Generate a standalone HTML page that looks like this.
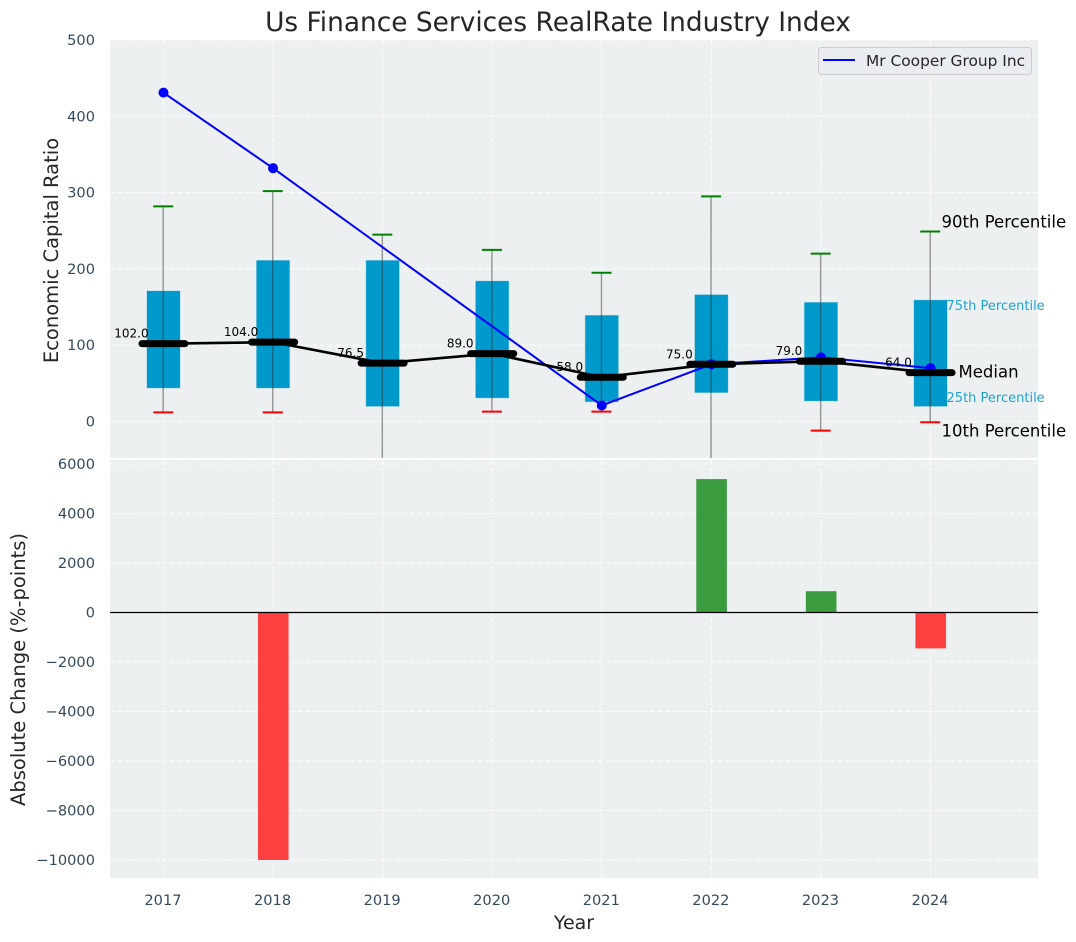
<!DOCTYPE html>
<html>
<head>
<meta charset="utf-8">
<title>Us Finance Services RealRate Industry Index</title>
<style>
html,body{margin:0;padding:0;background:#fff;}
svg{display:block;font-family:"DejaVu Sans","Liberation Sans",sans-serif;}
</style>
</head>
<body>
<svg id="chart" width="1076" height="942" viewBox="0 0 1076 942" xmlns="http://www.w3.org/2000/svg">
  <defs>
    <clipPath id="clip-top"><rect x="110" y="40" width="928" height="418"></rect></clipPath>
    <clipPath id="clip-bottom"><rect x="110" y="460" width="928" height="418"></rect></clipPath>
  </defs>
  <text x="558" y="31" text-anchor="middle" font-size="26.4" fill="#262626">Us Finance Services RealRate Industry Index</text>
  <rect x="110" y="40" width="928" height="418" fill="#ecf0f1"></rect>
  <rect x="110" y="460" width="928" height="418" fill="#ecf0f1"></rect>
  <text transform="translate(58,250.5) rotate(-90)" text-anchor="middle" font-size="19.5" fill="#262626">Economic Capital Ratio</text>
  <text transform="translate(25,669.5) rotate(-90)" text-anchor="middle" font-size="19.5" fill="#262626">Absolute Change (%-points)</text>
  <text x="574" y="929" text-anchor="middle" font-size="19" fill="#262626">Year</text>
  <g id="grid"></g>
  <g id="tick-labels"></g>
  <g id="top-marks" clip-path="url(#clip-top)"></g>
  <g id="bottom-marks" clip-path="url(#clip-bottom)"></g>
  <g id="annotations"></g>
  <g>
    <rect x="818.5" y="47.5" width="213" height="27" rx="3" fill="#e9ebf0" fill-opacity="0.9" stroke="#cccccc"></rect>
    <line x1="823" y1="60" x2="855" y2="60" stroke="#0000ff" stroke-width="2"></line>
    <text x="866" y="66" font-size="15.4" fill="#262626">Mr Cooper Group Inc</text>
  </g>
</svg>
<script>
const years = [2017, 2018, 2019, 2020, 2021, 2022, 2023, 2024];
const p90 = [282, 302, 245, 225, 195, 295, 220, 249];
const p75 = [171, 211, 211, 184, 139, 166, 156, 159];
const medians = [102, 104, 76.5, 89, 58, 75, 79, 64];
const p25 = [44, 44, 20, 31, 26, 38, 27, 20];
const p10 = [12, 12, -60, 13, 13, -60, -12, -1];
const companyYears = [2017, 2018, 2021, 2022, 2023, 2024];
const companyValues = [431, 332, 21, 75, 84, 70];
const changeYears = [2018, 2022, 2023, 2024];
const changeValues = [-10000, 5390, 860, -1450];
const topTicks = [0, 100, 200, 300, 400, 500];
const bottomTicks = [-10000, -8000, -6000, -4000, -2000, 0, 2000, 4000, 6000];

const NS = 'http://www.w3.org/2000/svg';
const x = v => 110 + (v - 2016.512) * 109.58;
const yTop = v => 421.5 - v * 0.7630;
const yBottom = v => 612.5 - v * 0.02475;

function make(parent, tag, props, text) {
  const el = document.createElementNS(NS, tag);
  Object.keys(props).forEach(k => el.setAttribute(k, props[k]));
  if (text !== undefined) el.textContent = text;
  parent.appendChild(el);
  return el;
}

const gridG = document.getElementById('grid');
const labelG = document.getElementById('tick-labels');
const topG = document.getElementById('top-marks');
const botG = document.getElementById('bottom-marks');
const annG = document.getElementById('annotations');
const gridStyle = {stroke: '#ffffff', 'stroke-width': 1, 'stroke-dasharray': '5 2.5', 'stroke-opacity': 0.85};

years.forEach(yr => {
  [[40, 458], [460, 878]].forEach(range => {
    const g = make(gridG, 'line', Object.assign({x1: x(yr), x2: x(yr), y1: range[0], y2: range[1]}, gridStyle));
    
    
  });
  const t = make(labelG, 'text', {x: x(yr) - 0.5, y: 905, 'text-anchor': 'middle', 'font-size': 14.6, fill: '#34495e'}, String(yr));
  
  
});

topTicks.forEach(v => {
  const g = make(gridG, 'line', Object.assign({x1: 110, x2: 1038, y1: yTop(v), y2: yTop(v)}, gridStyle));
  
  
  const t = make(labelG, 'text', {x: 95, y: yTop(v) + 5, 'text-anchor': 'end', 'font-size': 14.6, fill: '#34495e'}, String(v));
  
  
});

bottomTicks.forEach(v => {
  const g = make(gridG, 'line', Object.assign({x1: 110, x2: 1038, y1: yBottom(v), y2: yBottom(v)}, gridStyle));
  
  
  const t = make(labelG, 'text', {x: 95, y: yBottom(v) + 5, 'text-anchor': 'end', 'font-size': 14.6, fill: '#34495e'}, String(v).replace('-', '\u2212'));
  
  
});

years.forEach((yr, i) => {
  const box = make(topG, 'rect', {x: x(yr) - 16.5, y: yTop(p75[i]), width: 33, height: yTop(p25[i]) - yTop(p75[i]), fill: '#0099cc', stroke: '#0099cc', 'stroke-opacity': 0.3});
  
  
});

years.forEach((yr, i) => {
  const w = make(topG, 'line', {x1: x(yr) - 0.3, x2: x(yr) - 0.3, y1: yTop(p90[i]), y2: yTop(p10[i]), stroke: '#333333', 'stroke-opacity': 0.5, 'stroke-width': 1.4});
  
  
  const hi = make(topG, 'line', {x1: x(yr) - 10.3, x2: x(yr) + 9.7, y1: yTop(p90[i]), y2: yTop(p90[i]), stroke: '#008000', 'stroke-width': 2});
  
  
  const lo = make(topG, 'line', {x1: x(yr) - 10.3, x2: x(yr) + 9.7, y1: yTop(p10[i]), y2: yTop(p10[i]), stroke: '#ff0000', 'stroke-width': 2});
  
  
});

const companyLine = make(topG, 'polyline', {points: companyYears.map((yr, i) => x(yr) + ',' + yTop(companyValues[i])).join(' '), fill: 'none', stroke: '#0000ff', 'stroke-width': 2});


companyYears.forEach((yr, i) => {
  const c = make(topG, 'circle', {cx: x(yr), cy: yTop(companyValues[i]), r: 5, fill: '#0000ff'});
  
  
});

years.forEach((yr, i) => {
  const t = make(topG, 'text', {x: x(yr) - 32, y: yTop(medians[i]) - 6, 'text-anchor': 'middle', 'font-size': 12, fill: '#000000'}, medians[i].toFixed(1));
  
  
});

const medianLine = make(topG, 'polyline', {points: years.map((yr, i) => x(yr) + ',' + yTop(medians[i])).join(' '), fill: 'none', stroke: '#000000', 'stroke-width': 2.6});


years.forEach((yr, i) => {
  const m = make(topG, 'line', {x1: x(yr) - 21.5, x2: x(yr) + 21.5, y1: yTop(medians[i]), y2: yTop(medians[i]), stroke: '#000000', 'stroke-width': 7, 'stroke-linecap': 'round'});
  
  
});

changeYears.forEach((yr, i) => {
  const v = changeValues[i];
  const b = make(botG, 'rect', {x: x(yr) - 15.1, width: 30.6, y: Math.min(yBottom(v), yBottom(0)), height: Math.abs(yBottom(v) - yBottom(0)), fill: v < 0 ? '#ff4040' : '#3b9c3f'});
  
  
});
const zero = make(botG, 'line', {x1: 110, x2: 1038, y1: yBottom(0), y2: yBottom(0), stroke: '#000000', 'stroke-width': 1.2});



const last = years.length - 1;
const lx = x(years[last]);
const a90 = make(annG, 'text', {x: lx + 11, y: yTop(p90[last]) - 4, 'font-size': 16.5, fill: '#000000'}, '90th Percentile');


const a75 = make(annG, 'text', {x: lx + 16, y: yTop(p75[last]) + 10, 'font-size': 13, fill: '#1fa3d1'}, '75th Percentile');


const a50 = make(annG, 'text', {x: lx + 28, y: yTop(medians[last]) + 5, 'font-size': 16.5, fill: '#000000'}, 'Median');


const a25 = make(annG, 'text', {x: lx + 16, y: yTop(p25[last]) - 4, 'font-size': 13, fill: '#1fa3d1'}, '25th Percentile');


const a10 = make(annG, 'text', {x: lx + 11, y: yTop(p10[last]) + 14, 'font-size': 16.5, fill: '#000000'}, '10th Percentile');


</script>
</body>
</html>
